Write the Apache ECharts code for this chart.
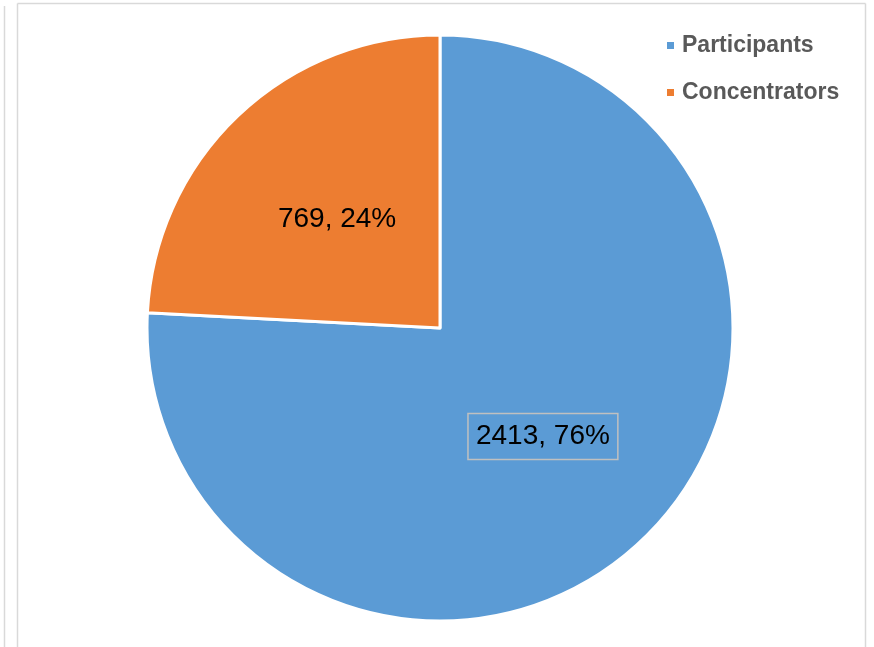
<!DOCTYPE html>
<html>
<head>
<meta charset="utf-8">
<script src="https://cdn.jsdelivr.net/npm/echarts@6/dist/echarts.min.js"></script>
<style>html,body{margin:0;padding:0;background:#fff;}#c{width:874px;height:647px;}</style>
</head>
<body>
<div id="c"></div>
<script>
const categories = ['Participants', 'Concentrators'];
const values = [2413, 769];
const colors = ['#5B9BD5', '#ED7D31'];

const chart = echarts.init(document.getElementById('c'));
const data = categories.map((n, i) => ({
  name: n,
  value: values[i],
  itemStyle: { color: colors[i] },
  label: i === 0 ? { borderColor: '#c0c0c0', borderWidth: 1.5, padding: [10, 8, 8, 8] } : {}
}));

chart.setOption({
  animation: false,
  graphic: [
    { type: 'line', shape: { x1: 4.5, y1: 6, x2: 4.5, y2: 647 }, style: { stroke: '#d9d9d9', lineWidth: 1.5 } },
    { type: 'line', shape: { x1: 17.5, y1: 3.5, x2: 17.5, y2: 647 }, style: { stroke: '#d9d9d9', lineWidth: 1.5 } },
    { type: 'line', shape: { x1: 17.5, y1: 3.5, x2: 865.5, y2: 3.5 }, style: { stroke: '#d9d9d9', lineWidth: 1.5 } },
    { type: 'line', shape: { x1: 865.5, y1: 3.5, x2: 865.5, y2: 647 }, style: { stroke: '#d9d9d9', lineWidth: 1.5 } }
  ],
  legend: {
    orient: 'vertical',
    left: 660,
    top: 29,
    icon: 'rect',
    itemWidth: 9,
    itemHeight: 9,
    itemGap: 24,
    textStyle: { fontFamily: 'Liberation Sans', fontWeight: 'bold', fontSize: 23, color: '#595959', padding: [0, 0, 0, 2] },
    data: categories
  },
  series: [{
    type: 'pie',
    center: [440, 328],
    radius: 293,
    startAngle: 90,
    clockwise: true,
    percentPrecision: 0,
    itemStyle: { borderColor: '#ffffff', borderWidth: 3 },
    label: {
      show: true,
      position: 'inside',
      formatter: '{c}, {d}%',
      fontFamily: 'Liberation Sans',
      fontSize: 28,
      color: '#000000'
    },
    labelLine: { show: false },
    emphasis: { disabled: true },
    data: data
  }]
});
</script>
</body>
</html>
